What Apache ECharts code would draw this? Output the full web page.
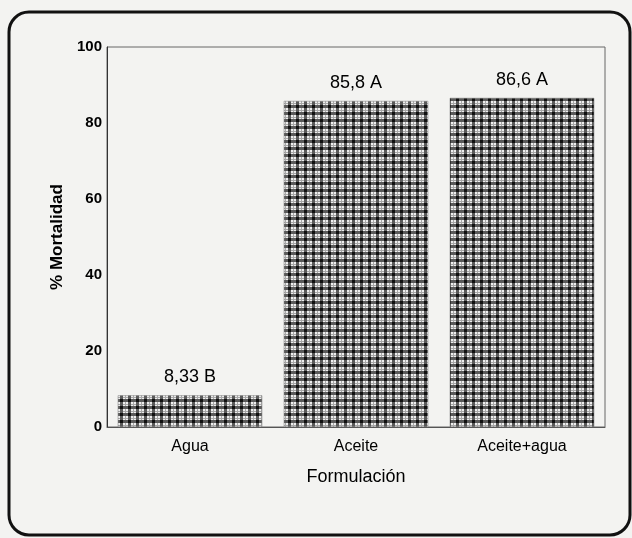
<!DOCTYPE html>
<html>
<head>
<meta charset="utf-8">
<script src="https://cdn.jsdelivr.net/npm/echarts@6/dist/echarts.min.js"></script>
<style>
html,body{margin:0;padding:0;background:#f3f3f1;}
#chart{width:632px;height:538px;}
</style>
</head>
<body>
<div id="chart"></div>
<script>
var categories = ['Agua', 'Aceite', 'Aceite+agua'];
var mortality = [8.33, 85.8, 86.6];
var groupLetters = ['B', 'A', 'A'];
var yTicks = [0, 20, 40, 60, 80, 100];

function makePattern() {
  var c = document.createElement('canvas');
  c.width = 8; c.height = 7;
  var g = c.getContext('2d');
  g.fillStyle = '#eeeeee';
  g.fillRect(0, 0, 8, 7);
  g.fillStyle = '#5a5a5a';
  g.fillRect(0, 0, 3, 7);
  g.fillRect(0, 0, 8, 3);
  g.fillStyle = '#101010';
  g.fillRect(0, 0, 3, 3);
  g.fillStyle = '#a8a8a8';
  g.fillRect(5, 3, 1, 4);
  g.fillRect(3, 5, 5, 1);
  return c;
}

var chart = echarts.init(document.getElementById('chart'), null, {renderer: 'canvas'});
var font = '"Liberation Sans", Arial, sans-serif';
chart.setOption({
  backgroundColor: '#f3f3f1',
  textStyle: {fontFamily: font, color: '#000'},
  graphic: [{
    type: 'rect',
    shape: {x: 9, y: 12, width: 621, height: 523, r: 20},
    style: {fill: 'none', stroke: '#111', lineWidth: 3},
    z: 100
  }],
  grid: {
    left: 107, right: 27, top: 47, bottom: 111,
    show: true, borderColor: '#666', borderWidth: 1,
    backgroundColor: 'transparent'
  },
  xAxis: {
    type: 'category',
    data: categories,
    name: 'Formulación',
    nameLocation: 'middle',
    nameGap: 41,
    nameTextStyle: {fontSize: 18, color: '#000', fontFamily: font},
    axisLine: {lineStyle: {color: '#555', width: 1}},
    axisTick: {show: false},
    axisLabel: {fontSize: 16, color: '#000', margin: 12, fontFamily: font}
  },
  yAxis: {
    type: 'value',
    min: 0, max: 100, interval: 20,
    name: '% Mortalidad',
    nameLocation: 'middle',
    nameGap: 41,
    nameTextStyle: {fontSize: 17, fontWeight: 'bold', color: '#000', fontFamily: font},
    axisLine: {show: true, lineStyle: {color: '#333', width: 1}},
    axisTick: {show: false},
    splitLine: {show: false},
    axisLabel: {
      fontSize: 15, fontWeight: 'bold', color: '#000', margin: 5, fontFamily: font,
      formatter: function (v) { return yTicks.indexOf(v) >= 0 ? String(v) : ''; }
    }
  },
  series: [{
    type: 'bar',
    data: mortality,
    barCategoryGap: '13%',
    itemStyle: {
      color: {image: makePattern(), repeat: 'repeat'},
      borderColor: '#777', borderWidth: 0.5
    },
    label: {
      show: true,
      position: 'top',
      distance: 9,
      fontSize: 18,
      color: '#000',
      fontFamily: font,
      formatter: function (p) {
        return String(p.value).replace('.', ',') + ' ' + groupLetters[p.dataIndex];
      }
    }
  }]
});
</script>
</body>
</html>
